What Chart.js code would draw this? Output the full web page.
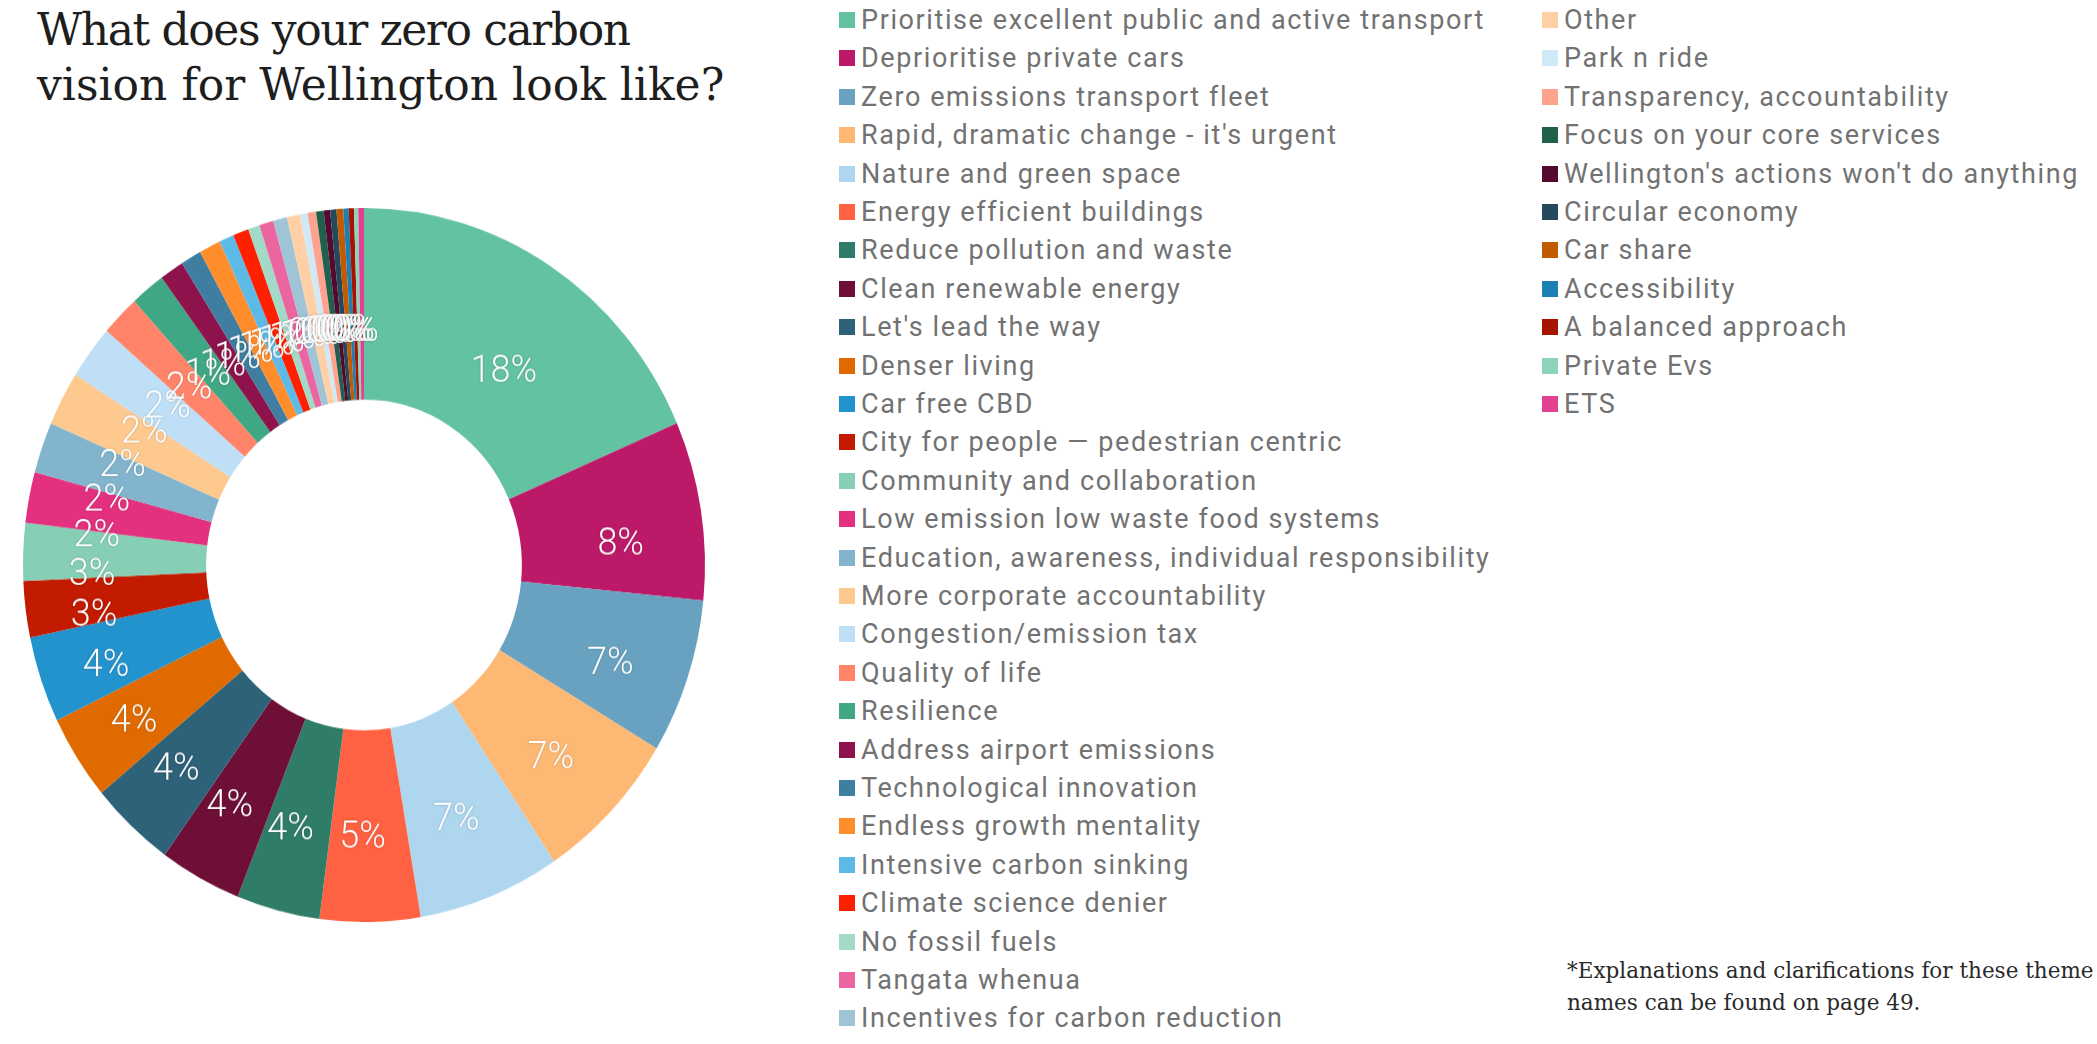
<!DOCTYPE html>
<html>
<head>
<meta charset="utf-8">
<script src="https://cdn.jsdelivr.net/npm/chart.js@4.4.1/dist/chart.umd.min.js"></script>
<style>
  html, body { margin: 0; padding: 0; background: #fff; width: 2097px; height: 1044px; overflow: hidden; }
  #title { position: absolute; left: 37px; top: 2px; font-family: "DejaVu Serif", serif; font-size: 44px; line-height: 55px; color: #1e1e1e; white-space: nowrap; }
  #title .l1 { letter-spacing: -1.4px; }
  #wrap { position: absolute; left: 14px; top: 215px; width: 700px; height: 700px; transform: scaleY(1.047); transform-origin: 50% 50%; }
  #legend { position: absolute; left: 0; top: 0; }
  .li { position: absolute; height: 38px; display: flex; align-items: center; font-family: Roboto, sans-serif; font-size: 27px; letter-spacing: 1.6px; color: #727272; white-space: nowrap; }
  .li .sw { width: 16px; height: 16px; margin-right: 6px; flex: none; }
  #note { position: absolute; left: 1567px; top: 955px; font-family: "DejaVu Serif", serif; font-size: 21.5px; line-height: 32px; color: #2a2a2a; white-space: nowrap; }
</style>
</head>
<body>
<div id="title"><span class="l1">What does your zero carbon</span><br>vision for Wellington look like?</div>
<div id="wrap"><canvas id="c"></canvas></div>
<div id="legend"></div>
<div id="note">*Explanations and clarifications for these theme<br>names can be found on page 49.</div>
<script>
const categories = [
  "Prioritise excellent public and active transport",
  "Deprioritise private cars",
  "Zero emissions transport fleet",
  "Rapid, dramatic change - it's urgent",
  "Nature and green space",
  "Energy efficient buildings",
  "Reduce pollution and waste",
  "Clean renewable energy",
  "Let's lead the way",
  "Denser living",
  "Car free CBD",
  "City for people \u2014 pedestrian centric",
  "Community and collaboration",
  "Low emission low waste food systems",
  "Education, awareness, individual responsibility",
  "More corporate accountability",
  "Congestion/emission tax",
  "Quality of life",
  "Resilience",
  "Address airport emissions",
  "Technological innovation",
  "Endless growth mentality",
  "Intensive carbon sinking",
  "Climate science denier",
  "No fossil fuels",
  "Tangata whenua",
  "Incentives for carbon reduction",
  "Other",
  "Park n ride",
  "Transparency, accountability",
  "Focus on your core services",
  "Wellington's actions won't do anything",
  "Circular economy",
  "Car share",
  "Accessibility",
  "A balanced approach",
  "Private Evs",
  "ETS"
];
const shares = [
  18.49, 8.1, 7.0, 7.0, 6.75, 4.75, 3.95, 3.9, 4.05, 3.85,
  3.9, 2.55, 2.6, 2.3, 2.3, 2.45, 2.45, 1.85, 1.65, 1.15,
  0.98, 1.02, 0.7, 0.75, 0.55, 0.67, 0.66, 0.62, 0.36, 0.4,
  0.36, 0.3, 0.3, 0.32, 0.25, 0.25, 0.2, 0.27
];
const colours = [
  "#62C2A2", "#BC1A68", "#68A2C0", "#FDB874", "#AED6EE", "#FF6242", "#2F7C68", "#6E0F38", "#2E6278", "#E06A00",
  "#2393CE", "#C21B00", "#86CFB5", "#E3307F", "#82B5CD", "#FEC98E", "#BEDFF5", "#FF8469", "#3FA783", "#8E124B",
  "#3F7EA0", "#FF8D2B", "#5DB9E6", "#FF2000", "#A2D9C7", "#EB65A0", "#9FC4D6", "#FFD0A6", "#CFE9F7", "#FFA38E",
  "#20604C", "#540A2E", "#24495C", "#C25A00", "#1A80B5", "#A51400", "#8ED4BC", "#E3418F"
];

const pctLabels = {
  id: 'pctLabels',
  afterDatasetsDraw(chart) {
    const ctx = chart.ctx;
    const meta = chart.getDatasetMeta(0);
    const data = chart.data.datasets[0].data;
    const total = data.reduce((a, b) => a + b, 0);
    ctx.save();
    ctx.font = '300 36px Roboto, sans-serif';
    ctx.textAlign = 'center';
    ctx.textBaseline = 'middle';
    ctx.fillStyle = '#ffffff';
    ctx.shadowColor = 'rgba(0,0,0,0.25)';
    ctx.shadowBlur = 2;
    meta.data.forEach((arc, i) => {
      const p = arc.getProps(['x', 'y', 'startAngle', 'endAngle', 'outerRadius']);
      const a = (p.startAngle + p.endAngle) / 2;
      const R = p.outerRadius;
      const lx = p.x - 0.018 * R + Math.cos(a) * 0.78 * R;
      const ly = p.y + 0.055 * R + Math.sin(a) * 0.71 * R;
      const txt = Math.round(data[i] / total * 100 + 1e-9) + '%';
      ctx.fillText(txt, lx, ly);
    });
    ctx.restore();
  }
};

const chart = new Chart(document.getElementById('c'), {
  type: 'doughnut',
  data: {
    labels: categories,
    datasets: [{ data: shares, backgroundColor: colours, borderWidth: 0 }]
  },
  options: {
    responsive: true,
    maintainAspectRatio: false,
    animation: false,
    radius: 341,
    cutout: '46.3%',
    layout: { padding: 0 },
    plugins: { legend: { display: false }, tooltip: { enabled: false } }
  },
  plugins: [pctLabels]
});

// HTML legend built from the chart's own legend items
const legendEl = document.getElementById('legend');
const items = chart.options.plugins.legend.labels.generateLabels(chart);
items.forEach((it, i) => {
  const col = i < 27 ? 0 : 1;
  const row = col === 0 ? i : i - 27;
  const d = document.createElement('div');
  d.className = 'li';
  d.style.left = (col === 0 ? 839 : 1542) + 'px';
  d.style.top = (1 + row * 38.4) + 'px';
  const sw = document.createElement('span');
  sw.className = 'sw';
  sw.style.background = it.fillStyle;
  d.appendChild(sw);
  d.appendChild(document.createTextNode(it.text));
  legendEl.appendChild(d);
});
</script>
</body>
</html>
